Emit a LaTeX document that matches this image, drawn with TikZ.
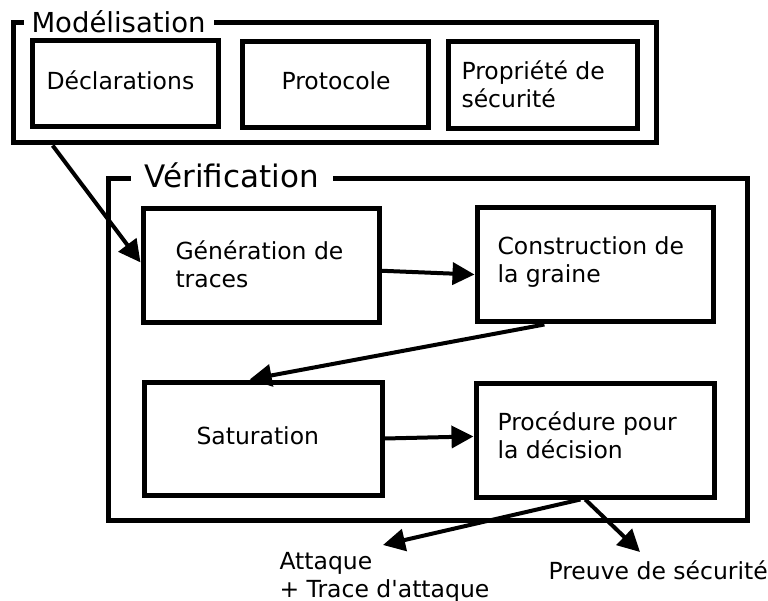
\documentclass[tikz,border=0pt]{standalone}
\usepackage{fontspec}
\setmainfont{DejaVu Sans}
\usetikzlibrary{arrows.meta,calc}
\begin{document}
\begin{tikzpicture}[x=1pt,y=-1pt,line width=5pt,
  box/.style={draw,rectangle,inner sep=0pt,line join=miter,line width=5pt},
  txt/.style={anchor=base west,inner sep=0pt,font=\fontsize{23.5}{28}\selectfont,align=left},
  ttl/.style={anchor=base west,fill=white,inner ysep=2pt},
  arr/.style={-{Triangle[length=22pt,width=22pt]},line join=miter,line width=4pt}]
\useasboundingbox (0,0) rectangle (768,601);
% frames
\node[box,minimum width=643pt,minimum height=120pt] (mod) at (334.5,83) {};
\node[box,minimum width=639pt,minimum height=341pt] (ver) at (427.5,349.5) {};
\node[ttl,inner xsep=8pt,font=\fontsize{27.5}{32}\selectfont] (modt) at (21,33) {Modélisation};
\node[ttl,inner xsep=14pt,font=\fontsize{31}{36}\selectfont] (vert) at (128,188) {Vérification};
% boxes
\node[box,minimum width=186pt,minimum height=86pt] (decl) at (125,84) {};
\node[box,minimum width=186pt,minimum height=86pt] (proto) at (335,85) {};
\node[box,minimum width=189pt,minimum height=87pt] (prop) at (542.5,85.5) {};
\node[box,minimum width=236pt,minimum height=114pt] (gen) at (261,266) {};
\node[box,minimum width=236pt,minimum height=114pt] (con) at (595,265) {};
\node[box,minimum width=238pt,minimum height=113pt] (sat) at (263,438.5) {};
\node[box,minimum width=238pt,minimum height=114pt] (proc) at (595,440) {};
% texts (base = baseline of last line)
\node[txt] (decltxt) at (44,90) {Déclarations};
\node[txt] (prototxt) at (279,90) {Protocole};
\node[txt] (proptxt) at (459,108) {Propriété de\\sécurité};
\node[txt] (gentxt) at (173,288) {Génération de\\traces};
\node[txt] (contxt) at (495,283) {Construction de\\la graine};
\node[txt] (sattxt) at (194,444) {Saturation};
\node[txt] (proctxt) at (495,458) {Procédure pour\\la décision};
\node[txt] (atttxt) at (277,597) {Attaque\\+ Trace d\textquotesingle attaque};
\node[txt] (prvtxt) at (546,579) {Preuve de sécurité};
% free ends
\coordinate (attend) at (383,545);
\coordinate (prvend) at (640,552);
% arrows
\draw[arr] ($(mod.south west)!0.065!(mod.south east)$) -- ($(gen.north west)!0.47!(gen.south west)$);
\draw[arr] ($(gen.north east)!0.54!(gen.south east)$) -- ($(con.north west)!0.58!(con.south west)$);
\draw[arr] ($(con.south west)!0.29!(con.south east)$) -- ($(sat.north west)!0.445!(sat.north east)$);
\draw[arr] (sat.east) -- ($(proc.north west)!0.47!(proc.south west)$);
\draw[arr] ($(proc.south west)!0.44!(proc.south east)$) -- (attend);
\draw[arr] ($(proc.south west)!0.46!(proc.south east)$) -- (prvend);
\end{tikzpicture}
\end{document}
